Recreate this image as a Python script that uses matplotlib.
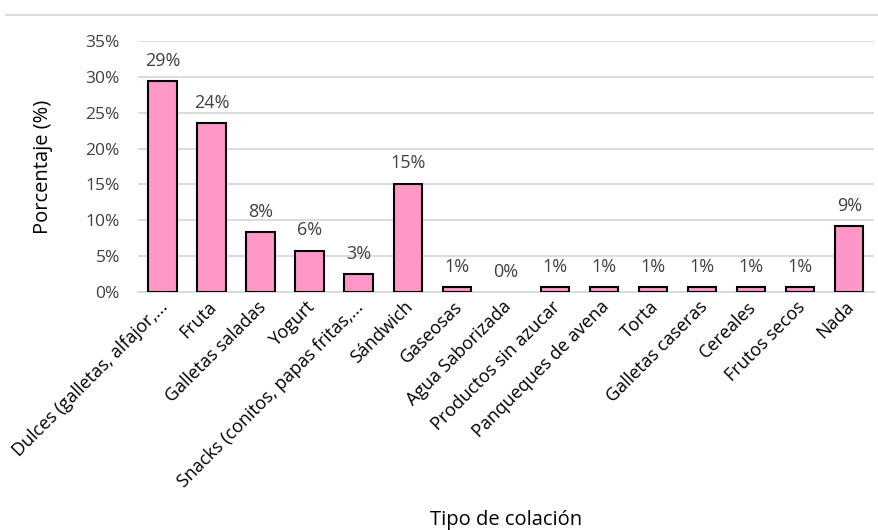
import matplotlib
matplotlib.use("Agg")
import matplotlib.pyplot as plt
import matplotlib.transforms as mtransforms
from matplotlib.lines import Line2D
from matplotlib.ticker import PercentFormatter

plt.rcParams['font.family'] = ['Open Sans', 'DejaVu Sans']

categorias = ["Dulces (galletas, alfajor,...", "Fruta", "Galletas saladas", "Yogurt",
              "Snacks (conitos, papas fritas,...", "Sándwich", "Gaseosas",
              "Agua Saborizada", "Productos sin azucar", "Panqueques de avena",
              "Torta", "Galletas caseras", "Cereales", "Frutos secos", "Nada"]
porcentajes = [29.4, 23.5, 8.4, 5.8, 2.5, 15.1, 0.7, 0.0, 0.7, 0.7, 0.7, 0.7, 0.7, 0.7, 9.2]
etiquetas = ["29%", "24%", "8%", "6%", "3%", "15%", "1%", "0%", "1%", "1%",
             "1%", "1%", "1%", "1%", "9%"]
yticks = [0, 5, 10, 15, 20, 25, 30, 35]

fig = plt.figure(figsize=(8.79, 5.30), dpi=100)
ax = fig.add_axes([0.157, 0.4485, 0.837, 0.4747])

x = list(range(len(categorias)))
bordes = ["black" if v > 0 else "none" for v in porcentajes]
ax.bar(x, porcentajes, width=0.58, color="#FF97C8", edgecolor=bordes,
       linewidth=1.5, zorder=3)

for xi, v, lab in zip(x, porcentajes, etiquetas):
    ax.annotate(lab, (xi, v), xytext=(0, 11), textcoords="offset points",
                ha="center", va="baseline", fontsize=13, color="#404040")

ax.set_xlim(-0.5, len(categorias) - 0.5)
ax.set_ylim(0, 35)
ax.set_yticks(yticks)
ax.yaxis.set_major_formatter(PercentFormatter(decimals=0))
ax.grid(axis="y", color="#D9D9D9", linewidth=1.3, zorder=0)
ax.set_axisbelow(True)
for s in ["top", "right", "left"]:
    ax.spines[s].set_visible(False)
ax.spines["bottom"].set_color("#D9D9D9")
ax.spines["bottom"].set_linewidth(1.3)

ax.set_xticks(x)
ax.set_xticklabels(categorias, rotation=45, ha="right", rotation_mode="anchor",
                   fontsize=13, color="black")
ax.tick_params(axis="x", length=0, pad=4)
ax.tick_params(axis="y", length=0, pad=13, labelsize=12.5, labelcolor="#404040")

# correr un poco las etiquetas del eje x hacia la izquierda
desplaza = mtransforms.ScaledTranslation(-4 / 100, 0, fig.dpi_scale_trans)
for t in ax.get_xticklabels():
    t.set_transform(t.get_transform() + desplaza)

ax.set_ylabel("Porcentaje (%)", fontsize=14.5, color="black")
ax.yaxis.set_label_coords(-0.115, 0.5)
ax.set_xlabel("Tipo de colación", fontsize=14.5, color="black")
ax.xaxis.set_label_coords(0.5, -0.865)

# linea superior del marco
fig.add_artist(Line2D([0.007, 1.0], [0.972, 0.972], color="#D9D9D9", linewidth=1.3))

fig.savefig("out.png", dpi=100)
